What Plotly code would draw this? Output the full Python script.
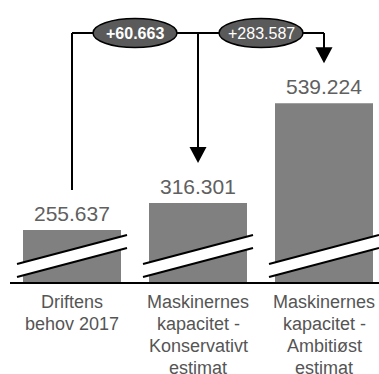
import plotly.graph_objects as go

# ---- data ----
categories = [["Driftens", "behov 2017"],
              ["Maskinernes", "kapacitet -", "Konservativt", "estimat"],
              ["Maskinernes", "kapacitet -", "Ambitiøst", "estimat"]]
values = [255637, 316301, 539224]
value_labels = ["255.637", "316.301", "539.224"]
delta_labels = ["+60.663", "+283.587"]
delta_bold = [True, False]

# ---- layout constants ----
W, H = 379, 374
ML, MB = 10, 92
PLOT_H = H - MB
Y0, Y1 = 139250, 770400          # broken axis range
X0, X1 = -0.49206, 2.43651
units_per_px = (Y1 - Y0) / PLOT_H
gap = 40 * units_per_px           # arrow tip above bar top
line_y = Y0 + (PLOT_H - 33) * units_per_px

BAR_COLOR = "#808080"
TEXT_COLOR = "#606060"
ELL_COLOR = "#5a5a5a"
FONT = "Liberation Sans, Arial, sans-serif"

x = list(range(len(values)))

fig = go.Figure(go.Bar(
    x=x, y=values, width=0.7778, marker=dict(color=BAR_COLOR, line=dict(width=0)),
    hoverinfo="skip"))

shapes = []
annotations = []

# value labels
for i, (v, t) in enumerate(zip(values, value_labels)):
    annotations.append(dict(x=i, y=v, xref="x", yref="y", text=t, showarrow=False,
                            yanchor="bottom", yshift=3,
                            font=dict(size=21, color=TEXT_COLOR, family=FONT)))

# category labels (one annotation per line for tight line spacing)
for i, lines in enumerate(categories):
    for j, ln in enumerate(lines):
        annotations.append(dict(x=i, y=0, xref="x", yref="paper", text=ln,
                                showarrow=False, yanchor="middle",
                                yshift=-20 - 22 * j,
                                font=dict(size=18, color="#555555", family=FONT)))

# break marks
for i in x:
    common = dict(xref="x", yref="y", xsizemode="pixel", ysizemode="pixel",
                  xanchor=i, yanchor=Y0, layer="above")
    shapes.append(dict(type="path", path="M -55,5 L 55,34 L 55,47 L -55,18 Z",
                       fillcolor="white", line=dict(width=0), **common))
    shapes.append(dict(type="path", path="M -55,5 L 55,34",
                       line=dict(color="black", width=2), **common))
    shapes.append(dict(type="path", path="M -55,18 L 55,47",
                       line=dict(color="black", width=2), **common))

# connector lines
blk = dict(color="black", width=2)
shapes.append(dict(type="line", xref="x", yref="y", x0=0, x1=0,
                   y0=values[0] + gap, y1=line_y, line=blk))
shapes.append(dict(type="line", xref="x", yref="y", x0=0, x1=2,
                   y0=line_y, y1=line_y, line=blk))
for i in (1, 2):
    tip = values[i] + gap
    shapes.append(dict(type="line", xref="x", yref="y", x0=i, x1=i,
                       y0=line_y, y1=tip + 8 * units_per_px, line=blk))
    shapes.append(dict(type="path", xref="x", yref="y", xsizemode="pixel",
                       ysizemode="pixel", xanchor=i, yanchor=tip,
                       path="M -8.5,16 L 8.5,16 L 0,0 Z", fillcolor="black",
                       line=dict(width=0)))

# delta ellipses
mids = [0.5, 1.5]
for m, t, b in zip(mids, delta_labels, delta_bold):
    shapes.append(dict(type="circle", xref="x", yref="y", xsizemode="pixel",
                       ysizemode="pixel", xanchor=m, yanchor=line_y,
                       x0=-42, x1=42, y0=-14.5, y1=14.5, fillcolor=ELL_COLOR,
                       line=dict(color="black", width=1.5)))
    annotations.append(dict(x=m, y=line_y, xref="x", yref="y",
                            text=f"<b>{t}</b>" if b else t, showarrow=False,
                            font=dict(size=16, color="white", family=FONT)))

fig.update_layout(
    width=W, height=H, margin=dict(l=ML, r=0, t=0, b=MB, pad=0),
    paper_bgcolor="white", plot_bgcolor="white", showlegend=False,
    shapes=shapes, annotations=annotations,
    xaxis=dict(range=[X0, X1], tickmode="array", tickvals=x, showticklabels=False,
               showgrid=False, zeroline=False, showline=True, linecolor="black",
               linewidth=1.5, ticks="", automargin=False, fixedrange=True),
    yaxis=dict(range=[Y0, Y1], visible=False, fixedrange=True, automargin=False),
)

fig.write_html("out.html", config={"displayModeBar": False},
               post_script="document.body.style.margin='0';document.body.style.overflow='hidden';")
